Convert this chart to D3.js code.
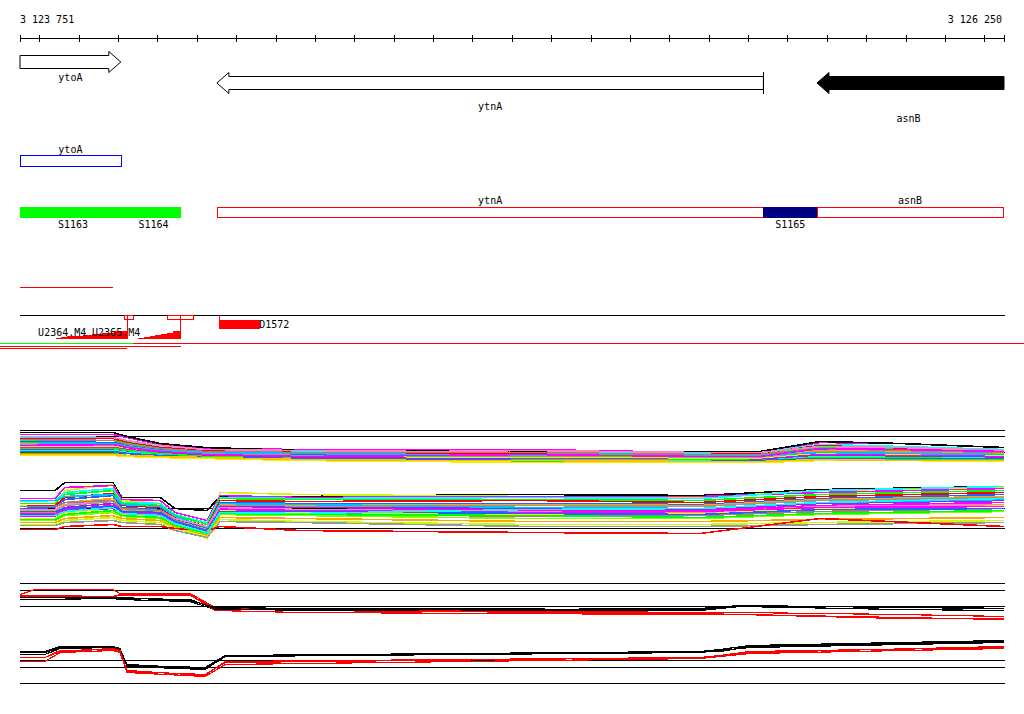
<!DOCTYPE html>
<html><head><meta charset="utf-8">
<script src="https://cdn.jsdelivr.net/npm/d3@7"></script>
<style>
body{margin:0;background:#fff}
svg{display:block}
text{font-family:"DejaVu Sans Mono",monospace;font-size:10px;fill:#000}
</style>
</head><body>
<svg id="c" width="1024" height="714"></svg>
<script>
// ---------- DATA ----------
const regionStart = 3123751, regionEnd = 3126250;
const tickPositions = d3.range(3123800, 3126201, 100);
const endLabels = ["3 123 751", "3 126 250"];

// gene arrows (track 1)
const geneNames   = ["ytoA", "ytnA", "asnB"];
const geneStarts  = [3123751, 3124251, 3125775];
const geneEnds    = [3124007, 3125639, 3126300];
const geneStrands = [1, -1, -1];
const geneFills   = ["#fff", "#fff", "#000"];

// track 2
const ortholog = {name: "ytoA", start: 3123751, end: 3124007};

// track 3 (segments)
const segNames   = ["S1163", "S1164", "ytnA", "S1165", "asnB"];
const segStarts  = [3123751, 3124020, 3124251, 3125639, 3125775];
const segEnds    = [3124020, 3124160, 3125639, 3125775, 3126248];
const segFills   = ["#00ff00", "#00ff00", "#fff", "#000080", "#fff"];
const segStrokes = ["#00ff00", "#00ff00", "#ff0000", "#000080", "#ff0000"];
const segLabelAbove = [false, false, true, false, true];

// track 4
const redSpan = [3123751, 3123987];

// track 5 (motifs)
const motifBoxes = [[3124015, 3124038], [3124124, 3124190]];
const motifStems = [3124023, 3124157];
const motifNames = ["U2364.M4", "U2365.M4"];
const motifLabelPos = [3123797, 3123934];
const rampPos1 = [3123842, 3123856, 3123870, 3123890, 3123910, 3123935, 3123960, 3123990, 3124023];
const rampPos2 = [3124051, 3124065, 3124080, 3124095, 3124110, 3124125, 3124140, 3124157];
const rampH1 = [0.5, 1.3, 2.0, 2.6, 3.2, 4.4, 5.5, 7.2, 7.2];
const rampH2 = [0.8, 1.6, 2.4, 3.4, 4.4, 5.6, 7.2, 7.2];
const dBox = {name: "D1572", start: 3124256, end: 3124361};

// under-lines
const underLines = [
  {s: 3123700, e: 3124038, row: 0, c: "#00ff00"},
  {s: 3124038, e: 3126301, row: 0, c: "#ff0000"},
  {s: 3123700, e: 3124160, row: 1, c: "#ff0000"},
  {s: 3123700, e: 3124023, row: 2, c: "#ff0000"}
];

// upper plot: reference lines and series
const refTop = [98, 92, 76, 20.5, 0];
const knotsA = [3123751, 3123987, 3124023, 3124107, 3124221, 3124462, 3124792, 3125046, 3125478, 3125630, 3125783, 3125986, 3126250];
const seriesA = [
  [94,94,91,84,80,79,79,79,76,76,86,85,81],
  [92,91,87,82,79,77,76,76,75,76,84,82,79],
  [90,90,86,81,78,76,75,75,74,75,83,80,78],
  [88,88,85,80,77,75,74,74,73,74,81,79,77],
  [87,86,83,79,76,74,73,73,72,73,79,78,76],
  [85,85,82,78,75,73,73,72,71,72,78,77,75],
  [84,83,81,77,75,73,72,72,71,71,77,76,74],
  [82,82,80,76,74,72,71,71,70,70,75,74,73],
  [81,81,79,76,73,71,70,70,69,69,74,73,72],
  [79,79,77,75,73,71,70,69,68,69,73,72,71],
  [78,78,76,74,72,70,69,68,68,68,72,71,70],
  [76,76,75,73,71,69,68,67,67,67,71,70,69],
  [75,75,73,72,70,69,68,67,66,67,69,69,68],
  [73,73,72,71,70,68,67,66,66,66,68,68,67],
  [96,96,92,85,81,78,78,77,77,77,87,85,81],
  [91,91,88,83,79,78,77,78,76,76,82,81,78],
  [89,88,84,80,77,76,76,76,74,74,80,78,76],
  [86,85,82,78,76,75,74,73,73,73,76,75,74],
  [83,84,81,77,74,72,73,74,72,72,80,79,77],
  [80,80,78,75,72,70,69,69,69,68,71,71,69],
  [77,77,75,73,71,70,69,68,67,68,70,70,70],
  [74,74,73,72,71,69,68,68,67,67,69,68,68]
];
const colorsA = ["#ff00ff","#00ffff","#ff0000","#00ff00","#1e64ff","#ffa500","#999999","#c8ff00","#ff00ff","#a020f0","#00ffff","#ff0000","#00ff00","#f0f000","#000000","#ff80c0","#a08080","#00c0ff","#ff00ff","#00ff00","#1e64ff","#ffc000"];

const knotsB = [3123751, 3123840, 3123865, 3123987, 3124010, 3124107, 3124145, 3124226, 3124259, 3124462, 3125046, 3125478, 3125783, 3126250];
const seriesB = [
  [38,38,46,46,31,31,20,18,32,32,34,33,39,42],
  [23,23,38,44,28,25,13,-10,36,34,32,31,38,41],
  [30,30,41,43,29,28,16,8,33,31,32,32,36,40],
  [27,28,36,40,26,25,14,6,31,30,31,30,38,42],
  [25,25,34,38,25,23,13,4,30,29,29,28,34,38],
  [22,23,31,35,23,21,11,2,28,27,28,26,32,36],
  [20,21,29,33,21,19,9,0,26,25,25,24,30,34],
  [18,18,26,30,19,17,8,-1,24,23,24,23,29,32],
  [16,16,23,27,18,16,7,-2,23,22,23,22,28,31],
  [14,14,21,25,17,15,6,-3,22,21,20,19,25,28],
  [12,12,19,23,16,14,5,-4,20,19,18,18,23,26],
  [10,10,16,20,14,12,4,-5,18,16,14,15,20,23],
  [28,28,32,34,24,22,12,1,25,24,21,20,26,29],
  [19,19,24,28,20,18,10,2,21,19,17,16,22,24],
  [8,8,13,16,12,10,2,-6,14,13,10,10,14,17],
  [22,22,26,28,20,18,8,-2,16,15,12,13,17,20],
  [6,6,10,13,10,8,1,-7,11,10,7,7,9,11],
  [4,4,8,11,8,6,0,-8,9,7,4,4,6,8],
  [3,3,6,8,6,4,-2,-9,7,6,2,2,4,6],
  [-1,-1,2,4,2,2,0,-2,2,-2,-4,-5,10,2],
  [15,15,18,20,16,14,6,-3,19,18,16,17,21,22],
  [17,17,20,22,17,16,7,-2,17,17,15,14,19,20],
  [9,9,14,18,13,11,3,-5,15,14,13,11,15,18],
  [13,13,17,21,15,13,5,-4,16,15,19,20,26,30]
];
const colorsB = ["#000000","#c8ff00","#ff00ff","#00ffff","#00ff00","#ff0000","#1e64ff","#ffa500","#999999","#a020f0","#ff00ff","#f0f000","#00c0ff","#ff80c0","#80ff00","#a08080","#ffa500","#c8ff00","#999999","#ff0000","#ff00ff","#1e64ff","#00ff00","#00ffff"];

// lower plot
const refBottom = [100, 93, 77, 23, 16, 0];
const knotsC = [3123751, 3123789, 3123987, 3124005, 3124183, 3124246, 3124462, 3125478, 3125580, 3125986, 3126250];
const seriesC = [
  [89,94,94,90,90,76,74,71,71,69,67],
  [88,88,87,88,88,75,73,70,69,65,65],
  [87,86,86,86,83,76,75,74,77,77,75],
  [84,84,85,84,82,74,74,73,77,74,73],
  [87,87,87,89,89,73,71,69,69,66,64],
  [86,86,86,85,84,75,73,75,78,76,75]
];
const colorsC = ["#ff0000","#ff0000","#000000","#000000","#ff0000","#000000"];
const knotsD = [3123751, 3123814, 3123853, 3123987, 3124005, 3124023, 3124221, 3124272, 3125478, 3125529, 3125605, 3126250];
const seriesD = [
  [32,32,37,37,35,18,16,28,32,34,38,43],
  [29,29,35,36,33,17,14,27,31,33,36,41],
  [31,31,36,36,34,19,15,28,32,32,37,42],
  [26,26,32,35,33,12,9,21,26,27,31,37],
  [22,22,31,33,31,11,7,19,25,27,30,35],
  [26,26,33,34,32,13,8,22,26,28,32,36]
];
const colorsD = ["#000000","#000000","#000000","#ff0000","#ff0000","#ff0000"];

// ---------- DRAW ----------
const svg = d3.select("#c");
const x = d3.scaleLinear().domain([regionStart, regionEnd]).range([20, 1004]);
const xc = v => Math.min(1004, x(v));
const g = svg.append("g").attr("shape-rendering", "crispEdges");

function hRule(x1, x2, yy, color) {
  g.append("rect").attr("x", Math.round(x1)).attr("y", Math.round(yy)).attr("width", Math.round(x2) - Math.round(x1)).attr("height", 1).attr("fill", color);
}

// axis
const ax = g.append("g").attr("transform", "translate(0,38)");
const axis = d3.axisTop(x).tickValues([regionStart, ...tickPositions, regionEnd]).tickSize(3).tickFormat("");
ax.call(axis);
ax.select(".domain").remove();
ax.selectAll(".tick line").attr("y1", 3.5).attr("y2", -3).attr("stroke", "#000");
hRule(x(regionStart), x(regionEnd) + 1, 38, "#000");
svg.append("text").attr("x", x(regionStart)).attr("y", 23).text(endLabels[0]);
svg.append("text").attr("x", x(regionEnd) - 2).attr("y", 23).attr("text-anchor", "end").text(endLabels[1]);

// gene arrows
function arrowPath(s, e, strand, top, bot, htop, hbot, hl) {
  const mid = (top + bot) / 2;
  if (strand > 0) {
    const xh = e - hl;
    return `M${s},${top}L${xh},${top}L${xh},${htop}L${e},${mid}L${xh},${hbot}L${xh},${bot}L${s},${bot}Z`;
  } else {
    const xh = s + hl;
    return `M${e},${top}L${xh},${top}L${xh},${htop}L${s},${mid}L${xh},${hbot}L${xh},${bot}L${e},${bot}Z`;
  }
}
const rows = [{top: 55.5, bot: 68.5, ht: 51.5, hb: 72.5}, {top: 76.5, bot: 89.5, ht: 72.5, hb: 93.5}, {top: 76.5, bot: 89.5, ht: 72.5, hb: 93.5}];
const labelY = [81, 110, 122];
geneNames.forEach((n, i) => {
  const r = rows[i];
  const s = x(geneStarts[i]), e = xc(geneEnds[i]);
  g.append("path").attr("d", arrowPath(s, e, geneStrands[i], r.top, r.bot, r.ht, r.hb, 12))
    .attr("fill", geneFills[i]).attr("stroke", "#000").attr("stroke-width", 1)
    .attr("shape-rendering", "auto");
  svg.append("text").attr("x", (s + e) / 2 + (i == 2 ? -2 : 0)).attr("y", labelY[i]).attr("text-anchor", "middle").text(n);
});
g.append("line").attr("x1", x(geneEnds[1]) + 0.5).attr("x2", x(geneEnds[1]) + 0.5).attr("y1", 72).attr("y2", 94).attr("stroke", "#000");

// track 2
g.append("rect").attr("x", x(ortholog.start) + 0.5).attr("y", 155.5).attr("width", x(ortholog.end) - x(ortholog.start)).attr("height", 10.5)
  .attr("fill", "none").attr("stroke", "#0000ff");
svg.append("text").attr("x", (x(ortholog.start) + x(ortholog.end)) / 2).attr("y", 153).attr("text-anchor", "middle").text(ortholog.name);

// track 3
segNames.forEach((n, i) => {
  const s = x(segStarts[i]), e = x(segEnds[i]);
  const filled = segFills[i] !== "#fff";
  g.append("rect").attr("x", filled ? s : s + 0.5).attr("y", filled ? 207 : 207.5)
    .attr("width", e - s).attr("height", filled ? 11 : 10)
    .attr("fill", segFills[i]).attr("stroke", filled ? "none" : segStrokes[i]);
  svg.append("text").attr("x", (s + e) / 2).attr("y", segLabelAbove[i] ? 204 : 228).attr("text-anchor", "middle").text(n);
});

// track 4
hRule(x(redSpan[0]), x(redSpan[1]), 287, "#ff0000");

// track 5
hRule(x(regionStart), x(regionEnd) + 1, 315, "#000");
motifBoxes.forEach(b => {
  g.append("rect").attr("x", x(b[0]) + 0.5).attr("y", 315.5).attr("width", x(b[1]) - x(b[0])).attr("height", 4)
    .attr("fill", "none").attr("stroke", "#ff0000");
});
motifStems.forEach(p => {
  g.append("line").attr("x1", Math.round(x(p)) + 0.5).attr("x2", Math.round(x(p)) + 0.5).attr("y1", 315).attr("y2", 339).attr("stroke", "#ff0000");
});
const hScale = d3.scaleLinear().domain([0, 7.2]).range([338.5, 331]);
const ramp = d3.area().x(d => x(d[0])).y0(338.5).y1(d => hScale(d[1])).curve(d3.curveStepAfter);
g.append("path").attr("d", ramp(rampPos1.map((p, i) => [p, rampH1[i]]))).attr("fill", "#ff0000");
g.append("path").attr("d", ramp(rampPos2.map((p, i) => [p, rampH2[i]]))).attr("fill", "#ff0000");
g.append("line").attr("x1", x(dBox.start) + 0.5).attr("x2", x(dBox.start) + 0.5).attr("y1", 315).attr("y2", 320).attr("stroke", "#ff0000");
g.append("rect").attr("x", x(dBox.start)).attr("y", 320).attr("width", x(dBox.end) - x(dBox.start)).attr("height", 9).attr("fill", "#ff0000");
svg.append("text").attr("x", x(dBox.end) - 1).attr("y", 328).text(dBox.name);
motifNames.forEach((n, i) => svg.append("text").attr("x", x(motifLabelPos[i])).attr("y", 335.5).text(n));

const underY = [343, 346, 348];
underLines.forEach(u => hRule(x(u.s), x(u.e), underY[u.row], u.c));

// upper plot
const yTop = d3.scaleLinear().domain([0, 100]).range([528.5, 428.5]);
refTop.forEach(v => hRule(x(regionStart), x(regionEnd) + 1, yTop(v) - 0.5, "#000"));
const lineTop = d3.line().x(d => x(d[0])).y(d => yTop(d[1]));
function drawSeries(knots, series, colors, lineGen, width) {
  series.forEach((vals, i) => {
    g.append("path").attr("d", lineGen(knots.map((k, j) => [k, vals[j]])))
      .attr("fill", "none").attr("stroke", colors[i]).attr("stroke-width", width);
  });
}
drawSeries(knotsA, seriesA, colorsA, lineTop, 1.6);
drawSeries(knotsB, seriesB, colorsB, lineTop, 1.6);

// lower plot
const yBot = d3.scaleLinear().domain([0, 100]).range([683.5, 583.5]);
refBottom.forEach(v => hRule(x(regionStart), x(regionEnd) + 1, yBot(v) - 0.5, "#000"));
const lineBot = d3.line().x(d => x(d[0])).y(d => yBot(d[1]));
drawSeries(knotsC, seriesC, colorsC, lineBot, 1.2);
drawSeries(knotsD, seriesD, colorsD, lineBot, 1.2);
</script>
</body></html>
